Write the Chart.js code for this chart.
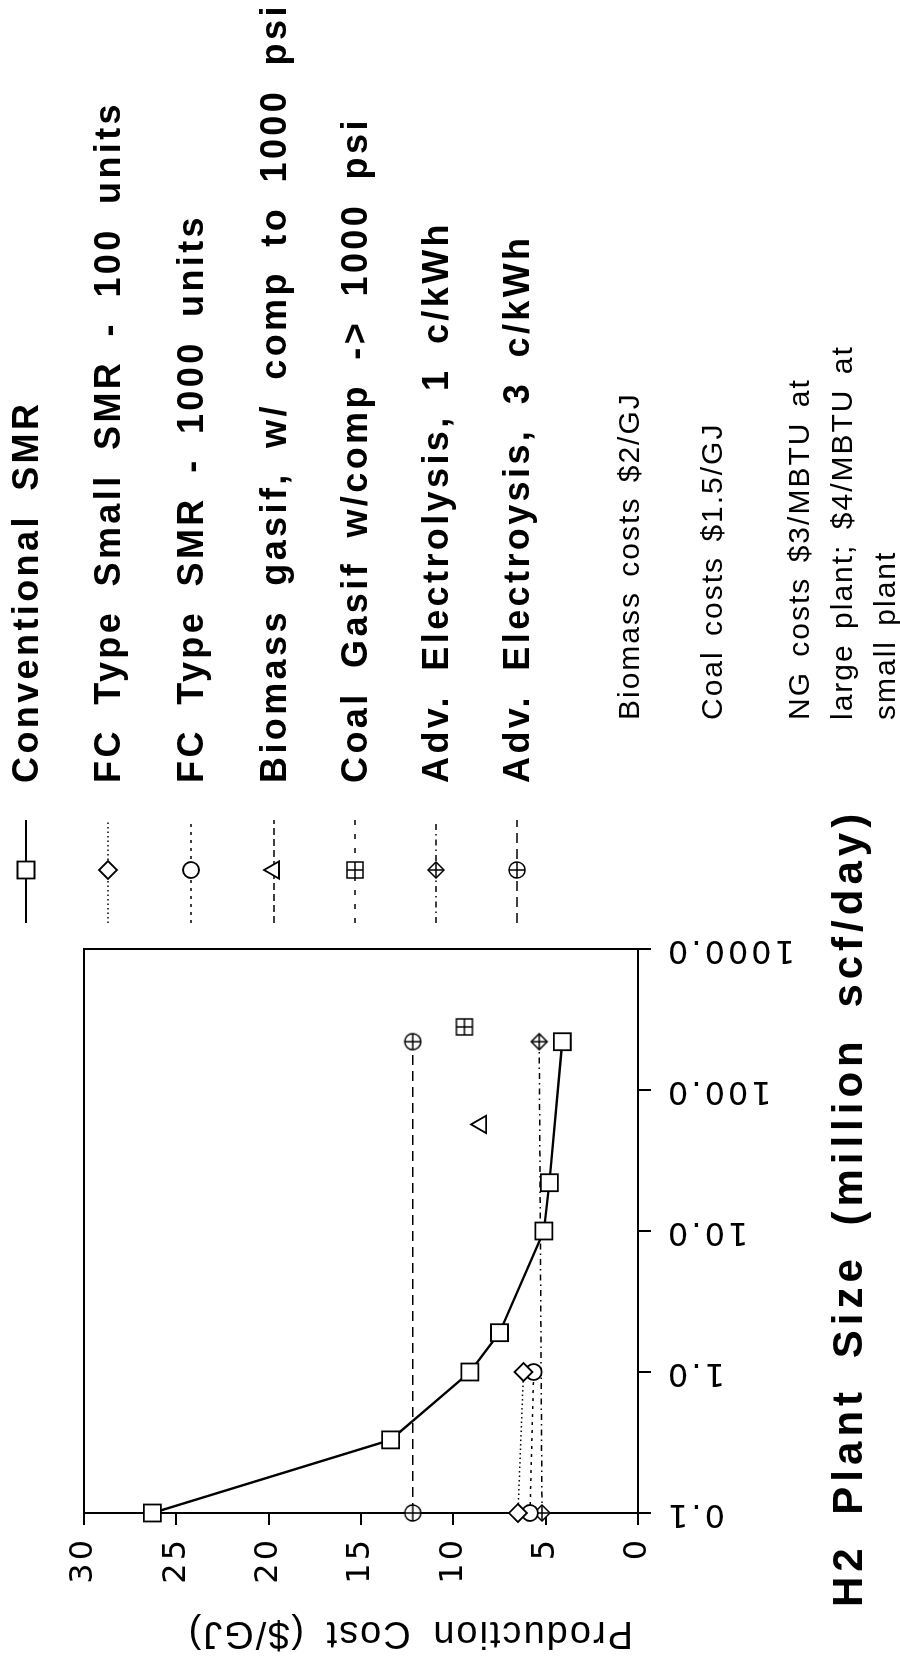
<!DOCTYPE html>
<html>
<head>
<meta charset="utf-8">
<script src="https://cdn.jsdelivr.net/npm/chart.js@4.4.1/dist/chart.umd.min.js"></script>
<style>
html, body { margin: 0; padding: 0; background: #fff; }
body { width: 900px; height: 1670px; overflow: hidden; position: relative; }
/* the chart is laid out landscape and turned a quarter turn, like the scanned page */
#land { position: absolute; left: 0; top: 0; width: 1670px; height: 900px;
  transform-origin: 0 0; transform: translateY(1670px) rotate(-90deg); }
#chart { position: absolute; left: 0; top: 0; }
.t { position: absolute; white-space: pre; color: #000; font-family: "Liberation Sans", Arial, sans-serif; }
.leg { font-size: 36px; font-weight: bold; letter-spacing: 3.4px; word-spacing: 10px; line-height: 40px; }
.note { font-size: 30px; letter-spacing: 2px; word-spacing: 4px; line-height: 43px; }
.xtitle { font-size: 42px; font-weight: bold; letter-spacing: 5px; word-spacing: 12px; line-height: 50px; }
.ytitle { font-size: 38px; letter-spacing: 2px; word-spacing: 8px; line-height: 44px;
  transform-origin: 0 0; transform: rotate(-90deg) translateY(-50%); }
</style>
</head>
<body>
<div id="land">
  <canvas id="chart" width="1670" height="900"></canvas>
</div>
<script>
// tick values and labels
const sizeTicks = [0.1, 1, 10, 100, 1000]
const sizeTickLabels = ['0.1', '1.0', '10.0', '100.0', '1000.0']
const costTicks = [0, 5, 10, 15, 20, 25, 30]

const seriesNames = [
    'Conventional SMR',
    'FC Type Small SMR - 100 units',
    'FC Type SMR - 1000 units',
    'Biomass gasif, w/ comp to 1000 psi',
    'Coal Gasif w/comp -> 1000 psi',
    'Adv. Electrolysis, 1 c/kWh',
    'Adv. Electroysis, 3 c/kWh',
]
const notes = ['Biomass costs $2/GJ', 'Coal costs $1.5/GJ', 'NG costs $3/MBTU at\nlarge plant; $4/MBTU at\nsmall plant']

// plant size (million scf/day) and production cost ($/GJ)
const convSize = [0.1, 0.33, 1, 1.9, 10, 22, 220]
const convCost = [26.3, 13.4, 9.1, 7.5, 5.1, 4.8, 4.1]
const fc100Size = [0.1, 1]
const fc100Cost = [6.5, 6.2]
const fc1000Size = [0.1, 1]
const fc1000Cost = [5.85, 5.65]
const bioSize = [57]
const bioCost = [8.5]
const coalSize = [280]
const coalCost = [9.4]
const elec1Size = [0.1, 220]
const elec1Cost = [5.2, 5.35]
const elec3Size = [0.1, 220]
const elec3Cost = [12.2, 12.2]

function pts(xs, ys) {
    return xs.map((x, i) => ({ x: x, y: ys[i] }))
}

// markers with a cross inside them
function plusMarker(shape, r) {
    const s = Math.ceil(r * 2 + 4)
    const c = document.createElement('canvas')
    c.width = s
    c.height = s
    const g = c.getContext('2d')
    const m = s / 2
    g.lineWidth = 1.5
    g.strokeStyle = '#000'
    g.fillStyle = '#fff'
    g.beginPath()
    if (shape === 'square') g.rect(m - r, m - r, 2 * r, 2 * r)
    else if (shape === 'diamond') {
        g.moveTo(m, m - r); g.lineTo(m + r, m); g.lineTo(m, m + r); g.lineTo(m - r, m); g.closePath()
    } else g.arc(m, m, r, 0, Math.PI * 2)
    g.fill()
    g.stroke()
    g.beginPath()
    g.moveTo(m - r, m); g.lineTo(m + r, m)
    g.moveTo(m, m - r); g.lineTo(m, m + r)
    g.stroke()
    return c
}

function series(i, data, style, radius, width, dash) {
    return {
        label: seriesNames[i], data: data, showLine: true, tension: 0, clip: false,
        borderColor: '#000', borderWidth: width, borderDash: dash,
        pointStyle: style, pointRadius: radius, pointBorderWidth: 1.8,
        pointBackgroundColor: '#fff', pointBorderColor: '#000',
    }
}

const datasets = [
    series(0, pts(convSize, convCost), 'rect', 12, 2.4, []),
    series(1, pts(fc100Size, fc100Cost), 'rectRot', 9, 1.5, [1.5, 3]),
    series(2, pts(fc1000Size, fc1000Cost), 'circle', 8, 1.5, [3, 5]),
    series(3, pts(bioSize, bioCost), 'triangle', 10, 1.5, [7, 4]),
    series(4, pts(coalSize, coalCost), plusMarker('square', 8), 9, 1.5, [5, 9]),
    series(5, pts(elec1Size, elec1Cost), plusMarker('diamond', 8), 8, 1.5, [6, 4, 1.5, 4]),
    series(6, pts(elec3Size, elec3Cost), plusMarker('circle', 8), 8, 1.5, [10, 6]),
]

const legendRows = [26, 108, 191, 274, 355, 436, 517]

// box round the plot area
const framePlugin = {
    id: 'frame',
    beforeDatasetsDraw(chart) {
        const a = chart.chartArea
        const ctx = chart.ctx
        ctx.save()
        ctx.strokeStyle = '#000'
        ctx.lineWidth = 2
        ctx.strokeRect(a.left, a.top, a.right - a.left, a.bottom - a.top)
        ctx.restore()
    }
}

// line + marker samples of the legend
const legendPlugin = {
    id: 'sideLegend',
    afterDraw(chart) {
        const ctx = chart.ctx
        chart.data.datasets.forEach((ds, i) => {
            const y = legendRows[i]
            ctx.save()
            ctx.strokeStyle = '#000'
            ctx.lineWidth = Math.min(ds.borderWidth, 1.8)
            ctx.setLineDash(ds.borderDash)
            ctx.beginPath()
            ctx.moveTo(747, y)
            ctx.lineTo(850, y)
            ctx.stroke()
            ctx.setLineDash([])
            ctx.fillStyle = '#fff'
            ctx.lineWidth = ds.pointBorderWidth
            Chart.helpers.drawPoint(ctx, {
                pointStyle: ds.pointStyle, radius: ds.pointRadius,
                borderWidth: ds.pointBorderWidth, rotation: 0
            }, 800, y)
            ctx.restore()
        })
    }
}

const spacingPlugin = {
    id: 'spacing',
    beforeDraw(chart) { chart.ctx.letterSpacing = '3px' },
    afterDraw(chart) { chart.ctx.letterSpacing = '0px' }
}

Chart.defaults.font.family = '"DejaVu Sans", sans-serif'
Chart.defaults.color = '#000'

new Chart(document.getElementById('chart'), {
    type: 'scatter',
    data: { datasets: datasets },
    options: {
        responsive: false,
        devicePixelRatio: 1,
        animation: false,
        layout: { padding: { left: 0, top: 84, right: 949, bottom: 0 } },
        plugins: { legend: { display: false }, tooltip: { enabled: false } },
        scales: {
            x: {
                type: 'logarithmic', position: 'bottom', min: 0.1, max: 1000,
                afterBuildTicks: s => { s.ticks = sizeTicks.map(v => ({ value: v })) },
                afterFit: s => { s.height = 262 },
                ticks: {
                    minRotation: 90, maxRotation: 90, autoSkip: false, padding: 14,
                    font: { size: 32 },
                    callback: v => sizeTickLabels[sizeTicks.indexOf(v)] || ''
                },
                grid: { drawOnChartArea: false, tickLength: 13, color: '#000', lineWidth: 2 },
                border: { color: '#000', width: 2 },
            },
            y: {
                position: 'left', min: 0, max: 30,
                afterBuildTicks: s => { s.ticks = costTicks.map(v => ({ value: v })) },
                afterFit: s => { s.width = 157 },
                ticks: { padding: 12, font: { size: 32 } },
                grid: { drawOnChartArea: false, tickLength: 12, color: '#000', lineWidth: 2 },
                border: { color: '#000', width: 2 },
            }
        }
    },
    plugins: [framePlugin, legendPlugin, spacingPlugin]
})

// legend labels, notes and axis titles as text
const land = document.getElementById('land')
function addText(cls, txt, left, top) {
    const d = document.createElement('div')
    d.className = 't ' + cls
    d.textContent = txt
    d.style.left = left + 'px'
    d.style.top = top + 'px'
    land.appendChild(d)
    return d
}
seriesNames.forEach((n, i) => addText('leg', n, 887, legendRows[i] - 20))
addText('note', notes[0], 950, 628 - 21.5)
addText('note', notes[1], 950, 711 - 21.5)
addText('note', notes[2], 950, 798 - 21.5)
addText('xtitle', 'H2 Plant Size (million scf/day)', 63, 848 - 25)
addText('ytitle', 'Production Cost ($/GJ)', 35, 633)
</script>
</body>
</html>
